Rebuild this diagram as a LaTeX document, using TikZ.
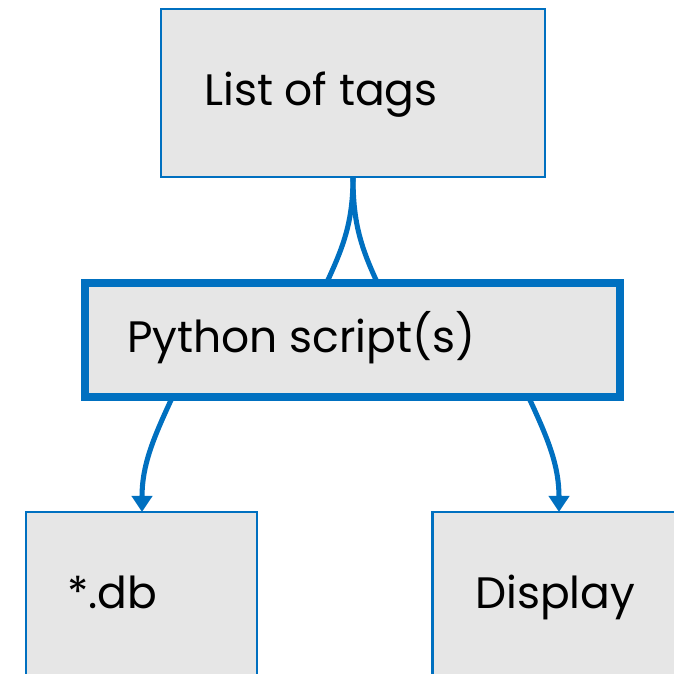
\documentclass[tikz,border=0pt]{standalone}
\usepackage{fontspec}
\setmainfont{Poppins}
\usetikzlibrary{arrows.meta}
\definecolor{bl}{RGB}{0,112,192}
\definecolor{gf}{RGB}{230,230,230}
\tikzset{
  box/.style={draw=bl, fill=gf, line width=1.9pt, inner sep=0pt, outer sep=0pt},
  thickbox/.style={box, line width=6pt},
  lbl/.style={anchor=base west, inner sep=0pt, font=\fontsize{33}{38}\selectfont, text=black},
  conn/.style={draw=bl, line width=3.8pt},
  arr/.style={conn, -{Triangle[width=15pt,length=12pt]}}
}
\begin{document}
\begin{tikzpicture}[x=0.75pt,y=0.75pt]
\useasboundingbox (0,0) rectangle (674,674);
\clip (0,0) rectangle (674,674);
\fill[white] (0,0) rectangle (674,674);
\node[box, minimum width=288pt, minimum height=126pt] (top) at (353,581) {};
\node[box, minimum width=173pt, minimum height=150pt] (db) at (141.5,62) {};
\node[box, minimum width=190pt, minimum height=150pt] (disp) at (559,62) {};
\coordinate (pl) at (327,392);
\coordinate (pr) at (377,392);
\draw[conn] (top.south) to[out=-90,in=65] (pl);
\draw[conn] (top.south) to[out=-90,in=115] (pr);
\node[thickbox, minimum width=401pt, minimum height=85.5pt] (py) at (352.5,334) {};
\coordinate (al) at (172,276);
\coordinate (ar) at (529,276);
\draw[arr] (al) to[out=-115,in=90] (db.north -| 142,0);
\draw[arr] (ar) to[out=-65,in=90] (disp.north -| 559,0);
\node[lbl] (t1) at (204,568) {List of tags};
\node[lbl] (t2) at (127,321) {Python script(s)};
\node[lbl] (t3) at (67,65) {*.db};
\node[lbl] (t4) at (475,65) {Display};
\end{tikzpicture}
\end{document}
